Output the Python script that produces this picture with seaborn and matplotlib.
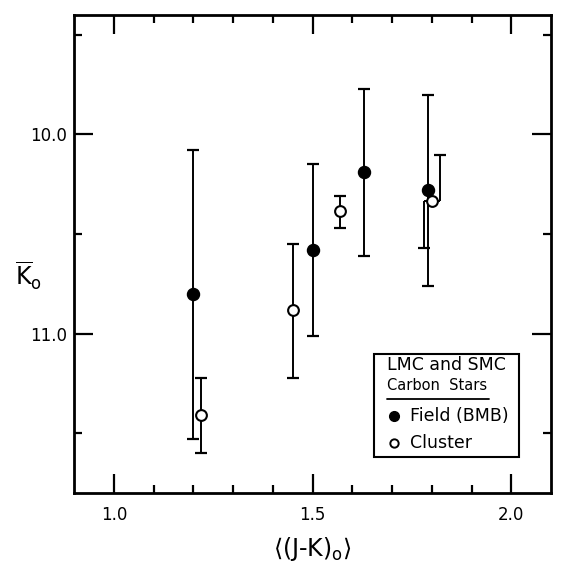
import numpy as np
import pandas as pd
import matplotlib
matplotlib.use("Agg")
import matplotlib.pyplot as plt
import seaborn as sns
from matplotlib.patches import Rectangle
from matplotlib.lines import Line2D

# Field carbon stars (BMB) - filled circles
field_x = [1.20, 1.50, 1.63, 1.79]
field_k = [10.80, 10.58, 10.19, 10.28]
field_bright = [10.08, 10.15, 9.77, 9.80]
field_faint = [11.53, 11.01, 10.61, 10.76]

# Cluster carbon stars - open circles
cluster_x = [1.22, 1.45, 1.57, 1.80]
cluster_k = [11.41, 10.88, 10.385, 10.335]
cluster_bright = [11.22, 10.55, 10.31, 10.105]
cluster_faint = [11.60, 11.22, 10.47, 10.57]
# last cluster bar is drawn displaced so it does not sit on the field bar
cluster_bar_bright_x = [1.22, 1.45, 1.57, 1.82]
cluster_bar_faint_x = [1.22, 1.45, 1.57, 1.78]

x_ticks = [1.0, 1.5, 2.0]
x_minor = [1.1, 1.2, 1.3, 1.4, 1.6, 1.7, 1.8, 1.9]
y_ticks = [10.0, 11.0]
y_minor = [9.5, 10.5, 11.5]

sns.set_theme(style="ticks")
plt.rcParams["font.family"] = ["DejaVu Sans"]
plt.rcParams["mathtext.fontset"] = "dejavusans"
plt.rcParams["text.color"] = "black"
plt.rcParams["axes.labelcolor"] = "black"

df = pd.DataFrame({
    "jk": field_x + cluster_x,
    "k0": field_k + cluster_k,
    "group": ["Field (BMB)"] * len(field_x) + ["Cluster"] * len(cluster_x),
})

fig = plt.figure(figsize=(5.70, 5.74), dpi=100)
ax = fig.add_axes([0.130, 0.141, 0.837, 0.833])

lw = 1.4
# error bars: field
ax.vlines(field_x, field_bright, field_faint, color="black", lw=lw, zorder=1)
ax.plot(field_x + field_x, field_bright + field_faint, ls="none", marker="_",
        ms=8, mew=1.6, color="black", zorder=1)

# error bars: cluster (upper and lower halves may be offset)
ax.vlines(cluster_bar_bright_x, cluster_bright, cluster_k, color="black", lw=lw, zorder=1)
ax.vlines(cluster_bar_faint_x, cluster_k, cluster_faint, color="black", lw=lw, zorder=1)
ax.hlines(cluster_k, cluster_bar_faint_x, cluster_bar_bright_x, color="black", lw=lw, zorder=1)
ax.plot(cluster_bar_bright_x + cluster_bar_faint_x, cluster_bright + cluster_faint,
        ls="none", marker="_", ms=8, mew=1.6, color="black", zorder=1)

sns.scatterplot(data=df[df.group == "Field (BMB)"], x="jk", y="k0", ax=ax,
                s=75, color="black", edgecolor="black", linewidth=1, zorder=3,
                legend=False)
sns.scatterplot(data=df[df.group == "Cluster"], x="jk", y="k0", ax=ax,
                s=60, color="white", edgecolor="black", linewidth=1.5, zorder=3,
                legend=False)

ax.set_xlim(0.9, 2.1)
ax.set_ylim(11.8, 9.4)

ax.set_xticks(x_ticks)
ax.set_xticks(x_minor, minor=True)
ax.set_xticklabels(["1.0", "1.5", "2.0"])
ax.set_yticks(y_ticks)
ax.set_yticks(y_minor, minor=True)
ax.set_yticklabels(["10.0", "11.0"])

ax.tick_params(which="both", direction="in", top=True, right=True, width=1.6,
               colors="black", labelsize=12)
ax.tick_params(which="major", length=14)
ax.tick_params(which="minor", length=6)
ax.tick_params(axis="x", which="major", pad=9)
ax.tick_params(axis="y", which="major", pad=5)
for sp in ax.spines.values():
    sp.set_linewidth(2)
    sp.set_color("black")

ax.set_xlabel(r"$\langle(\mathrm{J}$-$\mathrm{K})_\mathrm{o}\rangle$", fontsize=17, labelpad=8)
ax.set_ylabel(r"$\overline{\mathrm{K}}_\mathrm{o}$", fontsize=17, rotation=0,
              va="center")
ax.yaxis.set_label_coords(-0.095, 0.455)

# legend box
box = Rectangle((0.629, 0.075), 0.304, 0.216, transform=ax.transAxes,
                fill=False, edgecolor="black", lw=1.5, zorder=4)
ax.add_patch(box)
ax.text(0.655, 0.268, "LMC and SMC", transform=ax.transAxes, fontsize=12.5,
        va="center", ha="left")
ax.text(0.655, 0.224, "Carbon  Stars", transform=ax.transAxes, fontsize=10.5,
        va="center", ha="left")
ax.add_line(Line2D([0.655, 0.87], [0.197, 0.197], transform=ax.transAxes,
                   color="black", lw=1.3))
ax.plot([0.670], [0.161], transform=ax.transAxes, marker="o", ms=7,
        color="black", ls="none")
ax.text(0.705, 0.161, "Field (BMB)", transform=ax.transAxes, fontsize=12.5,
        va="center", ha="left")
ax.plot([0.670], [0.104], transform=ax.transAxes, marker="o", ms=6,
        mfc="white", mec="black", mew=1.4, ls="none")
ax.text(0.705, 0.104, "Cluster", transform=ax.transAxes, fontsize=12.5,
        va="center", ha="left")

fig.savefig("out.png", dpi=100)
